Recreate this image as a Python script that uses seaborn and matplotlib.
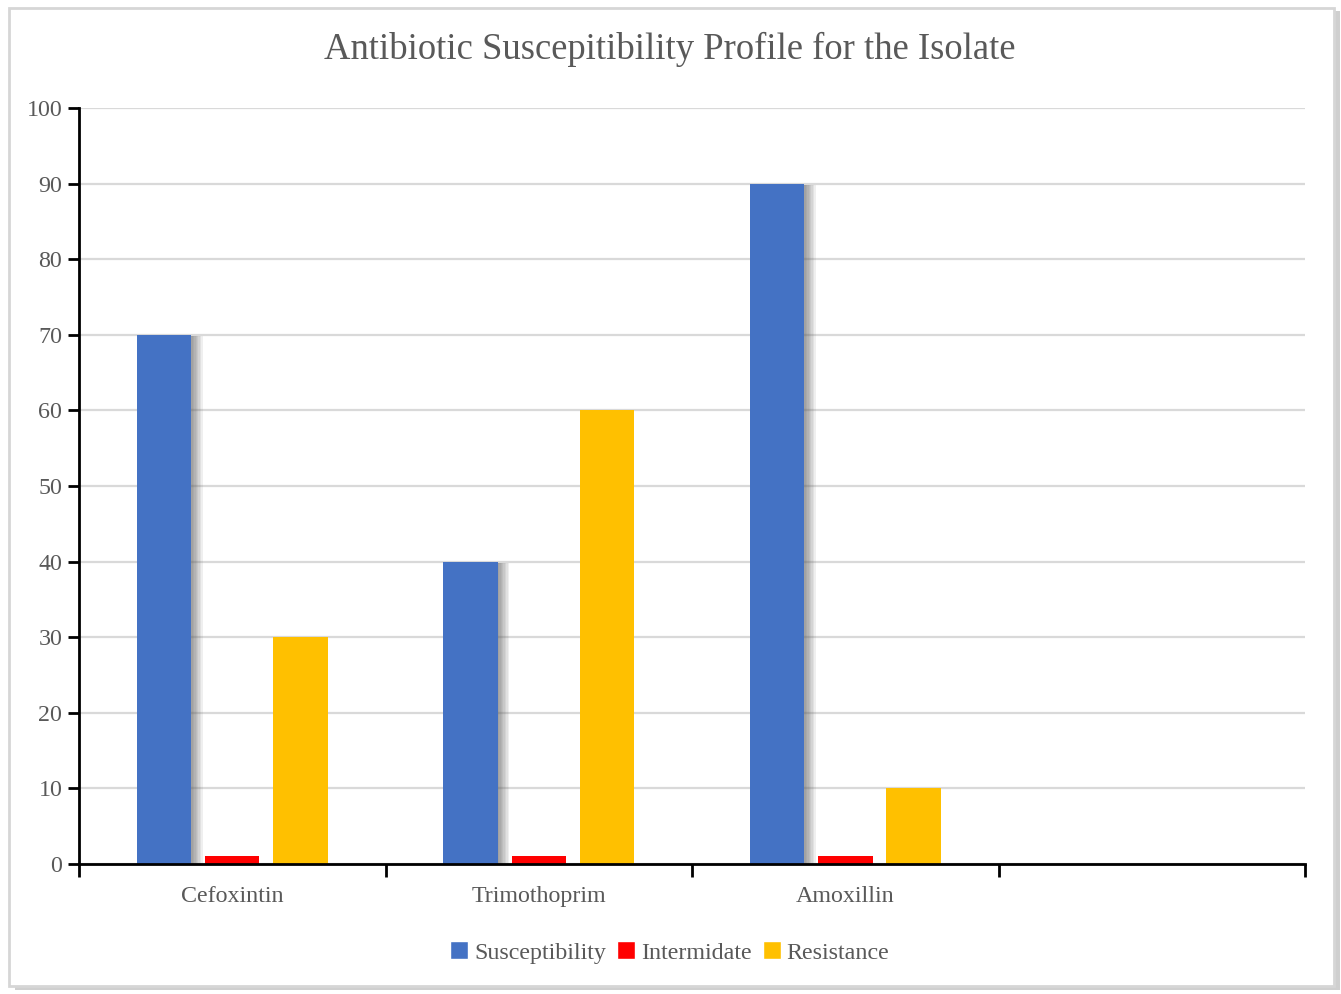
import matplotlib
matplotlib.use("Agg")
import matplotlib.pyplot as plt
import matplotlib.patheffects as pe
from matplotlib.patches import Rectangle
import pandas as pd
import seaborn as sns

# Data
categories = ["Cefoxintin", "Trimothoprim", "Amoxillin", ""]
series = ["Susceptibility", "Intermidate", "Resistance"]
susceptibility = [70, 40, 90]
intermediate = [1, 1, 1]
resistance = [30, 60, 10]
colors = ["#4472C4", "#FF0000", "#FFC000"]
y_ticks = [0, 10, 20, 30, 40, 50, 60, 70, 80, 90, 100]

rows = []
for i, cat in enumerate(categories[:3]):
    rows.append((cat, series[0], susceptibility[i]))
    rows.append((cat, series[1], intermediate[i]))
    rows.append((cat, series[2], resistance[i]))
df = pd.DataFrame(rows, columns=["drug", "profile", "value"])

sns.set_theme(style="white")
plt.rcParams["font.family"] = ["Liberation Serif", "DejaVu Serif"]

fig = plt.figure(figsize=(13.41, 9.94), dpi=100)
fig.patch.set_facecolor("white")

# Outer frame with a soft drop shadow
fig.patches.append(Rectangle((0.011, 0.004), 0.988, 0.985, transform=fig.transFigure,
                             facecolor="#cfcfcf", edgecolor="none", zorder=-2))
fig.patches.append(Rectangle((0.007, 0.008), 0.988, 0.984, transform=fig.transFigure,
                             facecolor="white", edgecolor="#d6d6d6", linewidth=2, zorder=-1))

ax = fig.add_axes([0.0589, 0.1308, 0.9143, 0.7605])
ax.set_facecolor("none")

sns.barplot(data=df, x="drug", y="value", hue="profile", order=categories,
            hue_order=series, palette=colors, width=0.666, gap=0.2,
            errorbar=None, ax=ax, saturation=1, legend=True)

# Soft shadow on the susceptibility bars
shadow = [pe.SimplePatchShadow(offset=(k, -1), shadow_rgbFace="#555555", alpha=0.09)
          for k in range(1, 9)]
for bar in ax.containers[0]:
    bar.set_path_effects(shadow + [pe.Normal()])
for cont in ax.containers:
    for bar in cont:
        bar.set_edgecolor("none")
        bar.set_zorder(3)

ax.set_ylim(0, 100)
ax.set_xlim(-0.5, len(categories) - 0.5)
ax.set_yticks(y_ticks)
ax.set_yticklabels([str(t) for t in y_ticks])
ax.yaxis.grid(True, color="#d9d9d9", linewidth=1.6)
ax.set_axisbelow(True)

# Category labels at the centres, tick marks at the slot boundaries
ax.set_xticks([i - 0.5 for i in range(len(categories) + 1)])
ax.set_xticklabels([])
ax.set_xticks(range(len(categories)), minor=True)
ax.set_xticklabels(categories, minor=True)
ax.tick_params(axis="x", which="minor", bottom=True, length=0, pad=16,
               labelsize=17.3, labelcolor="#595959")
ax.tick_params(axis="x", which="major", bottom=True, length=9, width=2,
               color="black", direction="out")
ax.tick_params(axis="y", left=True, length=8, width=2, color="black", direction="out",
               pad=4, labelsize=17.3, labelcolor="#595959")

for side in ["top", "right"]:
    ax.spines[side].set_visible(False)
for side in ["left", "bottom"]:
    ax.spines[side].set_color("black")
    ax.spines[side].set_linewidth(2)
    ax.spines[side].set_zorder(5)

ax.set_xlabel("")
ax.set_ylabel("")

ax.set_title("Antibiotic Suscepitibility Profile for the Isolate", fontsize=26.4,
             color="#595959", pad=35, x=0.482)

handles, labels = ax.get_legend_handles_labels()
ax.legend(handles, labels, loc="center", bbox_to_anchor=(0.482, -0.117), ncol=3,
          frameon=False, fontsize=17.3, labelcolor="#595959", handlelength=0.75,
          handleheight=0.75, handletextpad=0.25, columnspacing=0.45)

fig.savefig("out.png", dpi=100, facecolor="white")
